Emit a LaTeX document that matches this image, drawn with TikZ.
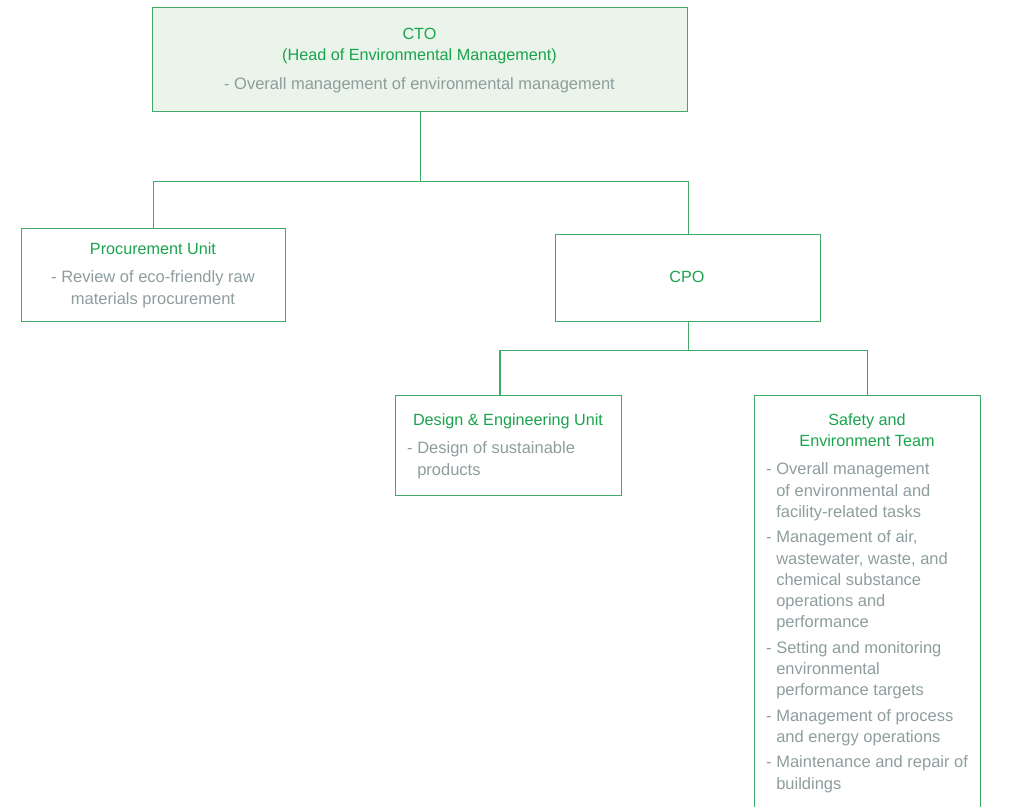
\documentclass[tikz,border=0pt]{standalone}
\usepackage{fontspec}
\setmainfont{Liberation Sans}
\definecolor{boxline}{HTML}{3FAB66}
\definecolor{titlegreen}{HTML}{1AA34D}
\definecolor{bodygrey}{HTML}{8E9D9D}
\definecolor{ctofill}{HTML}{EAF4EA}
\newcommand{\itemgap}{\\[4pt]}
\newcommand{\hang}{\hphantom{- }}
\begin{document}
\begin{tikzpicture}[x=1pt,y=-1pt,
  unitbox/.style={draw=boxline, line width=1.2pt, inner sep=0pt, anchor=north west},
  titletext/.style={text=titlegreen, font=\fontsize{16.2}{21}\selectfont, align=center, inner sep=0pt, anchor=base},
  bodytext/.style={text=bodygrey, font=\fontsize{16.5}{21.3}\selectfont, inner sep=0pt, anchor=base west, align=left},
  link/.style={draw=boxline, line width=1.2pt}]
\useasboundingbox (0,0) rectangle (1009,806);
\clip (0,0) rectangle (1009,806);

% boxes
\node[unitbox, fill=ctofill, minimum width=535pt, minimum height=104pt] (cto) at (152,7) {};
\node[unitbox, minimum width=264pt, minimum height=93pt] (proc) at (21,228) {};
\node[unitbox, minimum width=265pt, minimum height=87pt] (cpo) at (555,234) {};
\node[unitbox, minimum width=226pt, minimum height=100pt] (design) at (395,395) {};
\node[unitbox, minimum width=226pt, minimum height=425pt] (safety) at (754,395) {};

% text nodes are placed by the baseline of their last line
% CTO
\node[titletext] (ctotitle) at (419.5,60) {CTO\\(Head of Environmental Management)};
\node[bodytext, anchor=base] (ctobody) at (419.5,89) {- Overall management of environmental management};

% procurement
\node[titletext] (proctitle) at (153,254) {Procurement Unit};
\node[bodytext, anchor=base, align=center] (procbody) at (153,304) {- Review of eco-friendly raw\\materials procurement};

% CPO
\node[titletext] (cpotitle) at (687,282) {CPO};

% design & engineering
\node[titletext] (designtitle) at (508,425) {Design \& Engineering Unit};
\node[bodytext] (designbody) at (407,475) {- Design of sustainable\\\hang products};

% safety and environment
\node[titletext] (safetytitle) at (867,446) {Safety and\\Environment Team};
\node[bodytext] (safetybody) at (766,789) {%
  - Overall management\\\hang of environmental and\\\hang facility-related tasks\itemgap
  - Management of air,\\\hang wastewater, waste, and\\\hang chemical substance\\\hang operations and\\\hang performance\itemgap
  - Setting and monitoring\\\hang environmental\\\hang performance targets\itemgap
  - Management of process\\\hang and energy operations\itemgap
  - Maintenance and repair of\\\hang buildings};

% connectors
\coordinate (bus1) at ([yshift=-69pt]cto.south);
\draw[link] (cto.south) -- (bus1) -| (proc.north);
\draw[link] (bus1) -| (cpo.north);
\coordinate (bus2) at ([yshift=-28pt]cpo.south);
\coordinate (designtap) at ([xshift=105pt]design.north west);
\draw[link] (cpo.south) -- (bus2) -| (designtap);
\draw[link] (bus2) -| (safety.north);
\end{tikzpicture}
\end{document}
